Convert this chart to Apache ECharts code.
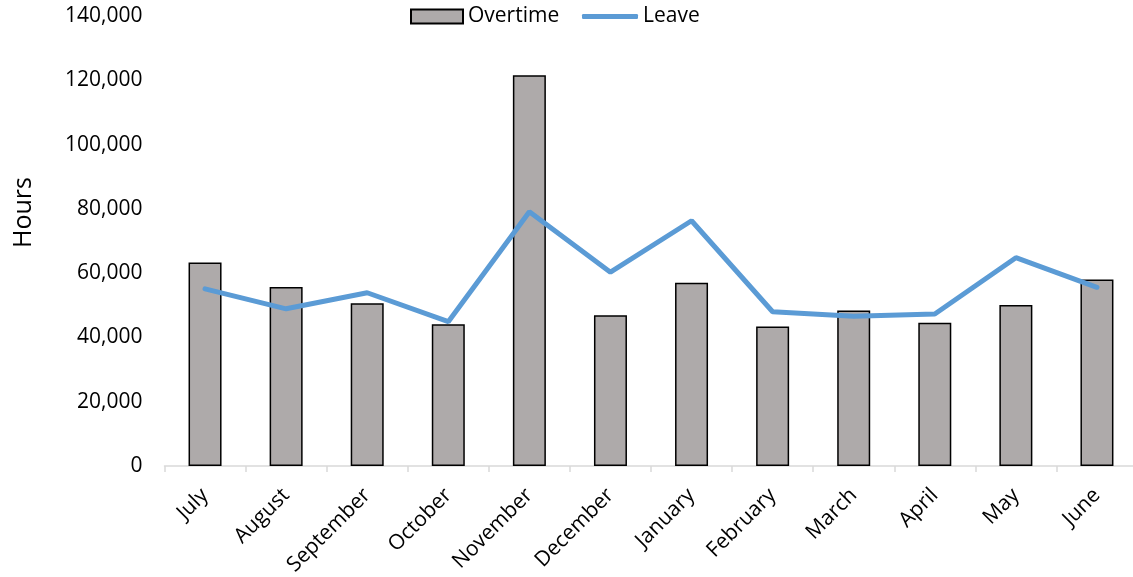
<!DOCTYPE html>
<html>
<head>
<meta charset="utf-8">
<script src="https://cdn.jsdelivr.net/npm/echarts@6/dist/echarts.min.js"></script>
<style>
  html, body { margin: 0; padding: 0; background: #ffffff; }
  #chart { width: 1133px; height: 577px; }
</style>
</head>
<body>
<div id="chart"></div>
<script>
// Monthly hours, financial year July–June
const months = ['July', 'August', 'September', 'October', 'November', 'December',
                'January', 'February', 'March', 'April', 'May', 'June'];
const overtime = [63300, 55700, 50600, 44100, 121600, 46900, 57000, 43400, 48400, 44600, 50100, 58000];
const leave = [55100, 48900, 53900, 44900, 79100, 60300, 76300, 48000, 46600, 47300, 64800, 55600];
const yTicks = [0, 20000, 40000, 60000, 80000, 100000, 120000, 140000];

const FONT = '"Open Sans", "Liberation Sans", sans-serif';
const FS = 21;

const chart = echarts.init(document.getElementById('chart'), null, { renderer: 'canvas' });

const legendText = { fontFamily: FONT, fontSize: FS, color: '#000000' };

chart.setOption({
  backgroundColor: '#ffffff',
  animation: false,
  textStyle: { fontFamily: FONT },
  grid: {
    left: 164.5,
    top: 16,
    width: 973,
    height: 450,
    containLabel: false,
    outerBoundsMode: 'none'
  },
  legend: [
    {
      top: 6,
      left: 410,
      padding: 0,
      itemWidth: 52,
      itemHeight: 14,
      textStyle: legendText,
      data: [{ name: 'Overtime', icon: 'rect' }]
    },
    {
      top: 6,
      left: 582,
      padding: 0,
      itemWidth: 56,
      itemHeight: 5,
      textStyle: legendText,
      data: [{ name: 'Leave', icon: 'roundRect' }]
    }
  ],
  graphic: [{
    type: 'text',
    left: 11,
    top: 177,
    rotation: Math.PI / 2,
    style: {
      text: 'Hours',
      font: '25px ' + FONT,
      fill: '#000000'
    }
  }],
  xAxis: {
    type: 'category',
    data: months,
    boundaryGap: true,
    axisLine: { show: true, lineStyle: { color: '#D9D9D9', width: 1.5 } },
    axisTick: { show: true, length: 6, lineStyle: { color: '#D9D9D9', width: 1.5 } },
    axisLabel: {
      rotate: 45,
      margin: 26,
      interval: 0,
      fontFamily: FONT,
      fontSize: FS,
      color: '#000000'
    },
    splitLine: { show: false }
  },
  yAxis: {
    type: 'value',
    min: yTicks[0],
    max: yTicks[yTicks.length - 1],
    interval: yTicks[1] - yTicks[0],
    axisLine: { show: false },
    axisTick: { show: false },
    splitLine: { show: false },
    axisLabel: {
      margin: 22,
      fontFamily: FONT,
      fontSize: FS,
      color: '#000000',
      formatter: v => v.toLocaleString('en-US')
    }
  },
  series: [
    {
      name: 'Overtime',
      type: 'bar',
      data: overtime,
      barWidth: 33,
      itemStyle: { color: '#AEAAAA', borderColor: '#000000', borderWidth: 1.5 }
    },
    {
      name: 'Leave',
      type: 'line',
      data: leave,
      symbol: 'none',
      showSymbol: false,
      lineStyle: { color: '#5B9BD5', width: 5, cap: 'round' },
      itemStyle: { color: '#5B9BD5' },
      z: 3
    }
  ]
});
</script>
</body>
</html>
